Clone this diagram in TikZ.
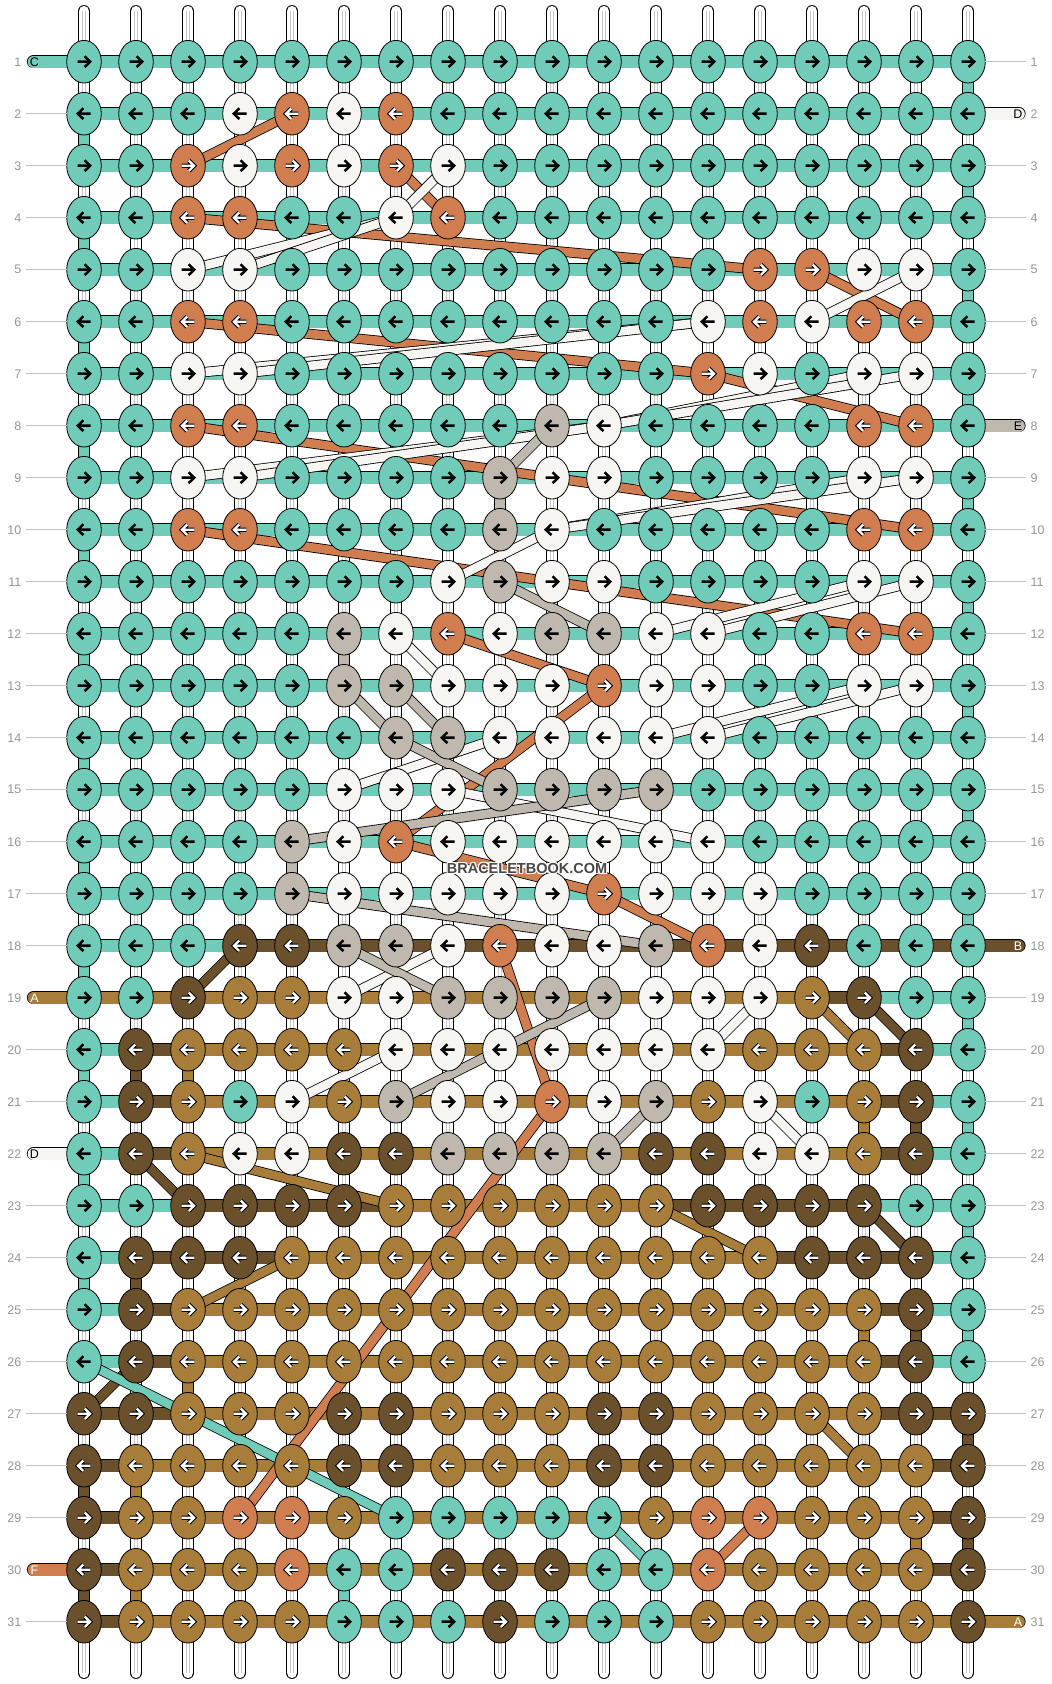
\documentclass[tikz,border=0pt]{standalone}
\usepackage{fontspec}
\setmainfont{Liberation Sans}
\definecolor{cT}{RGB}{112,204,185}
\definecolor{cO}{RGB}{208,126,79}
\definecolor{cW}{RGB}{246,245,241}
\definecolor{cG}{RGB}{191,184,174}
\definecolor{cD}{RGB}{106,81,43}
\definecolor{cB}{RGB}{168,125,57}
\definecolor{numgray}{RGB}{150,150,150}
\definecolor{linegray}{RGB}{192,192,192}
\definecolor{warpline}{RGB}{200,200,200}
\definecolor{wmgray}{RGB}{72,72,72}
\newcommand\thread[3]{\draw[line width=10.2,black] (#2)--(#3);\draw[line width=8.6,#1] (#2)--(#3);}
\newcommand\vseg[3]{\draw[line width=12.2,black] (#2)--(#3);\draw[line width=10.6,#1] (#2)--(#3);}
\newcommand\hseg[3]{\draw[line width=13.2,black] (#2)--(#3);\draw[line width=11.6,#1] (#2)--(#3);}
\newcommand\arrblack{\draw[line width=2.5,black,line join=miter] (-6.5,0)--(5.5,0) (0.6,-5.4)--(6.2,0)--(0.6,5.4);}
\newcommand\arrwhite{\draw[line width=4.4,black,line join=miter,line cap=square] (-6.3,0)--(5.5,0) (0.8,-5.2)--(6,0)--(0.8,5.2);\draw[line width=2.3,white,line join=miter] (-6.3,0)--(5.5,0) (0.8,-5.2)--(6,0)--(0.8,5.2);}
\makeatletter
\newcommand\knot[3]{%
  \path[fill=c#3,draw=black,line width=0.8] (k#1-#2) ellipse [x radius=17.3,y radius=21.3];
  \ifodd#1\relax\def\kn@d{1}\else\def\kn@d{-1}\fi
  \begin{scope}[shift={(k#1-#2)},xscale=\kn@d]\csname arr@#3\endcsname\end{scope}}
\def\arr@T{\arrblack}\def\arr@W{\arrblack}\def\arr@G{\arrblack}
\def\arr@O{\arrwhite}\def\arr@D{\arrwhite}\def\arr@B{\arrwhite}
\newcommand\krow[2]{\edef\kr@r{#1}\def\kr@c{0}\kr@next#2\@nil}
\def\kr@next#1{\ifx#1\@nil\else\pgfmathtruncatemacro\kr@c{\kr@c+1}\knot{\kr@r}{\kr@c}{#1}\expandafter\kr@next\fi}
\newcommand\hrow[2]{\edef\hr@r{#1}\def\hr@c{0}\hr@next#2\@nil}
\def\hr@next#1{\ifx#1\@nil\else\pgfmathtruncatemacro\hr@c{\hr@c+1}\pgfmathtruncatemacro\hr@d{\hr@c+1}\hseg{c#1}{k\hr@r-\hr@c}{k\hr@r-\hr@d}\expandafter\hr@next\fi}
\makeatother
\begin{document}
\begin{tikzpicture}[x=1pt,y=-1pt]
\useasboundingbox (0,0) rectangle (1052,1684);
\fill[white] (0,0) rectangle (1052,1684);
% knot positions
\foreach \r in {1,...,31}{\foreach \c in {1,...,18}{\coordinate (k\r-\c) at ({32+52*\c},{9.7+52*\r});}}
% warp strings
\foreach \c in {1,...,18}{
  \coordinate (wt\c) at ({32+52*\c},11.2);
  \coordinate (wb\c) at ({32+52*\c},1672.8);
  \draw[line width=12.2,line cap=round] (wt\c)--(wb\c);
  \draw[line width=10.6,line cap=round,white] (wt\c)--(wb\c);
  \draw[line width=0.7,warpline] ([xshift=-1.8pt]wt\c)--([xshift=-1.8pt]wb\c) ([xshift=1.8pt]wt\c)--([xshift=1.8pt]wb\c);
}
% edge turns
\foreach \r in {2,4,...,24}{\pgfmathtruncatemacro\rr{\r+1}\vseg{cT}{k\r-1}{k\rr-1}}
\vseg{cD}{k28-1}{k29-1}\vseg{cD}{k30-1}{k31-1}
\foreach \r in {1,3,...,25}{\pgfmathtruncatemacro\rr{\r+1}\vseg{cT}{k\r-18}{k\rr-18}}
\vseg{cD}{k27-18}{k28-18}\vseg{cD}{k29-18}{k30-18}
% straight carries
\vseg{cG}{k9-9}{k10-9}\vseg{cG}{k12-6}{k13-6}\vseg{cG}{k16-5}{k17-5}
\vseg{cD}{k20-2}{k21-2}\vseg{cD}{k24-2}{k25-2}\vseg{cD}{k21-17}{k22-17}\vseg{cD}{k25-17}{k26-17}
\vseg{cB}{k20-3}{k21-3}\vseg{cB}{k21-16}{k22-16}\vseg{cB}{k26-3}{k27-3}\vseg{cB}{k25-16}{k26-16}
\vseg{cB}{k28-2}{k29-2}\vseg{cB}{k30-2}{k31-2}\vseg{cB}{k29-17}{k30-17}
\vseg{cT}{k30-6}{k31-6}
% weft bars
\foreach \r in {1,...,17}{\hrow{\r}{TTTTT TTTTT TTTTT TT}}
\hrow{18}{TTT DDDDD DDDDD DDDD}
\hrow{19}{BBBBB BBBBB BBBB DTT}
\hrow{20}{TD BBBBB BBBBB BBB DT}
\hrow{21}{TD BBBBB BBBBB BBB DT}
\hrow{22}{TD BBBBB BBBBB BBB DT}
\hrow{23}{TT DDDD BBBBB DDDD TT}
\hrow{24}{T DDD BBBBB BBBB DDD T}
\hrow{25}{TD BBBBB BBBBB BBB DT}
\hrow{26}{TD BBBBB BBBBB BBB DT}
\hrow{27}{DD BBBBB BBBBB BBB DD}
\hrow{28}{D BBBBB BBBBB BBBBB D}
\hrow{29}{D BBBBB BBBBB BBBBB D}
\hrow{30}{D BBBBB BBBBB BBBBB D}
\hrow{31}{D BBBBB BBBBB BBBBB B}
% tails
\foreach \r/\col in {1/cT,19/cB,22/cW,30/cO}{
  \coordinate (tl\r) at (33.5,{9.7+52*\r});
  \draw[line width=13.2,line cap=round] (tl\r)--(k\r-1);
  \draw[line width=11.6,line cap=round,\col] (tl\r)--(k\r-1);}
\foreach \r/\col in {2/cW,8/cG,18/cD,31/cB}{
  \coordinate (tr\r) at (1019,{9.7+52*\r});
  \draw[line width=13.2,line cap=round] (k\r-18)--(tr\r);
  \draw[line width=11.6,line cap=round,\col] (k\r-18)--(tr\r);}
% carried threads
\thread{cO}{k2-5}{k3-3}
\thread{cO}{k3-7}{k4-8}
\thread{cO}{k4-3}{k5-14}
\thread{cO}{k5-15}{k6-17}
\thread{cO}{k6-3}{k7-13}
\thread{cO}{k7-13}{k8-17}
\thread{cO}{k8-3}{k10-17}
\thread{cO}{k10-3}{k12-17}
\thread{cO}{k12-8}{k13-11}
\thread{cO}{k13-11}{k16-7}
\thread{cO}{k16-7}{k17-11}
\thread{cO}{k17-11}{k18-13}
\thread{cO}{k18-9}{k21-10}
\thread{cO}{k21-10}{k29-4}
\thread{cO}{k29-14}{k30-13}
\thread{cW}{k3-8}{k4-7}
\thread{cW}{k4-7}{k5-3}
\thread{cW}{k4-7}{k5-4}
\thread{cW}{k5-17}{k6-15}
\thread{cW}{k6-13}{k7-3}
\thread{cW}{k6-13}{k7-4}
\thread{cW}{k7-16}{k8-11}
\thread{cW}{k7-17}{k8-11}
\thread{cW}{k8-11}{k9-3}
\thread{cW}{k8-11}{k9-4}
\thread{cW}{k9-16}{k10-10}
\thread{cW}{k9-17}{k10-10}
\thread{cW}{k10-10}{k11-8}
\thread{cW}{k11-16}{k12-12}
\thread{cW}{k11-17}{k12-13}
\thread{cW}{k12-7}{k13-8}
\thread{cW}{k13-16}{k14-12}
\thread{cW}{k13-17}{k14-13}
\thread{cW}{k14-9}{k15-6}
\thread{cW}{k15-8}{k16-13}
\thread{cW}{k18-8}{k19-6}
\thread{cW}{k19-14}{k20-13}
\thread{cW}{k20-7}{k21-5}
\thread{cW}{k21-14}{k22-15}
\thread{cG}{k8-10}{k9-9}
\thread{cG}{k11-9}{k12-11}
\thread{cG}{k13-6}{k14-7}
\thread{cG}{k13-7}{k14-8}
\thread{cG}{k14-7}{k15-9}
\thread{cG}{k16-5}{k15-12}
\thread{cG}{k17-5}{k18-12}
\thread{cG}{k18-6}{k19-8}
\thread{cG}{k19-11}{k21-7}
\thread{cG}{k21-12}{k22-11}
\thread{cD}{k18-4}{k19-3}
\thread{cD}{k19-16}{k20-17}
\thread{cD}{k22-2}{k23-3}
\thread{cD}{k23-16}{k24-17}
\thread{cD}{k26-2}{k27-1}
\thread{cB}{k19-15}{k20-16}
\thread{cB}{k22-3}{k23-7}
\thread{cB}{k23-12}{k24-14}
\thread{cB}{k24-5}{k25-3}
\thread{cB}{k27-15}{k28-16}
\thread{cT}{k26-1}{k29-7}
\thread{cT}{k29-11}{k30-12}
% knots
\krow{1}{TTTTTT TTTTTT TTTTTT}
\krow{2}{TTTWOW OTTTTT TTTTTT}
\krow{3}{TTOWOW OWTTTT TTTTTT}
\krow{4}{TTOOTT WOTTTT TTTTTT}
\krow{5}{TTWWTT TTTTTT TOOWWT}
\krow{6}{TTOOTT TTTTTT WOWOOT}
\krow{7}{TTWWTT TTTTTT OWTWWT}
\krow{8}{TTOOTT TTTGWT TTTOOT}
\krow{9}{TTWWTT TTGWWT TTTWWT}
\krow{10}{TTOOTT TTGWTT TTTOOT}
\krow{11}{TTTTTT TWGWWT TTTWWT}
\krow{12}{TTTTTG WOWGGW WTTOOT}
\krow{13}{TTTTTG GWWWOW WTTWWT}
\krow{14}{TTTTTT GGWWWW WTTTTT}
\krow{15}{TTTTTW WWGGGG TTTTTT}
\krow{16}{TTTTGW OWWWWW WTTTTT}
\krow{17}{TTTTGW WWWWOW WWTTTT}
\krow{18}{TTTDDG GWOWWG OWDTTT}
\krow{19}{TTDBBW WGGGGW WWBDTT}
\krow{20}{TDBBBB WWWWWW WBBBDT}
\krow{21}{TDBTWB GWWOWG BWTBDT}
\krow{22}{TDBWWD DGGGGD DWWBDT}
\krow{23}{TTDDDD BBBBBB DDDDTT}
\krow{24}{TDDDBB BBBBBB BBDDDT}
\krow{25}{TDBBBB BBBBBB BBBBDT}
\krow{26}{TDBBBB BBBBBB BBBBDT}
\krow{27}{DDBBBD DBBBDD BBBBDD}
\krow{28}{DBBBBD DBBBDD BBBBBD}
\krow{29}{DBBOOB TTTTTB OOBBBD}
\krow{30}{DBBBOT TDDDTT OBBBBD}
\krow{31}{DBBBBT TTDTTT BBBBBD}
% row numbers and guide lines
\foreach \r in {1,...,31}{
  \node[anchor=east,inner sep=0,text=numgray,font=\fontsize{12.5}{12.5}\selectfont] (nl\r) at (21.5,{9.7+52*\r}) {\r};
  \node[anchor=west,inner sep=0,text=numgray,font=\fontsize{12.5}{12.5}\selectfont] (nr\r) at (1030.5,{9.7+52*\r}) {\r};}
\foreach \r in {2,3,4,5,6,7,8,9,10,11,12,13,14,15,16,17,18,20,21,23,24,25,26,27,28,29,31}{
  \coordinate (gl\r) at (26,{9.7+52*\r});
  \draw[linegray,line width=1] (gl\r)--([xshift=-17.3pt]k\r-1);}
\foreach \r in {1,3,4,5,6,7,9,10,11,12,13,14,15,16,17,19,20,21,22,23,24,25,26,27,28,29,30}{
  \coordinate (gr\r) at (1026,{9.7+52*\r});
  \draw[linegray,line width=1] ([xshift=17.3pt]k\r-18)--(gr\r);}
% tail letters
\foreach \r/\t/\tc in {1/C/black,19/A/white,22/D/black,30/F/white}{
  \node[inner sep=0,text=\tc,font=\fontsize{12.5}{12.5}\selectfont] (tagl\r) at (34.5,{10.2+52*\r}) {\t};}
\foreach \r/\t/\tc in {2/D/black,8/E/black,18/B/white,31/A/white}{
  \node[inner sep=0,text=\tc,font=\fontsize{12.5}{12.5}\selectfont] (tagr\r) at (1018,{10.2+52*\r}) {\t};}
% watermark
\foreach \dx/\dy [count=\i] in {-1/0,1/0,0/-1,0/1,-1/-1,1/1,-1/1,1/-1}{
  \node[inner sep=0,text=white,font=\bfseries\fontsize{14.5}{14.5}\selectfont] (wmh\i) at ({527+\dx},{868+\dy}) {BRACELETBOOK.COM};}
\node[inner sep=0,text=wmgray,font=\bfseries\fontsize{14.5}{14.5}\selectfont] (wm) at (527,868) {BRACELETBOOK.COM};
\end{tikzpicture}
\end{document}
